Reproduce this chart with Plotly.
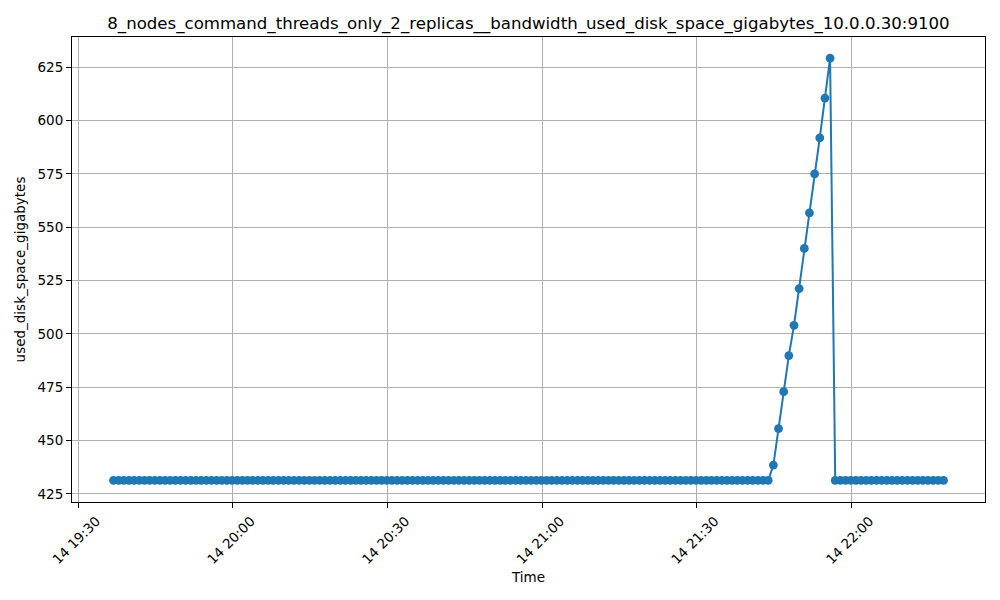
import pandas as pd
import plotly.graph_objects as go

# Data: one sample per minute starting 14 19:36:50
start_time = "2024-01-14 19:36:50"
n_points = 162
times = pd.date_range(start=start_time, periods=n_points, freq="1min")

flat_before = [
    431.3, 431.3, 431.3, 431.3, 431.3, 431.3, 431.3, 431.3, 431.3, 431.3, 431.3, 431.3, 431.3, 431.3, 431.3, 431.3,
    431.3, 431.3, 431.3, 431.3, 431.3, 431.3, 431.3, 431.3, 431.3, 431.3, 431.3, 431.3, 431.3, 431.3, 431.3, 431.3,
    431.3, 431.3, 431.3, 431.3, 431.3, 431.3, 431.3, 431.3, 431.3, 431.3, 431.3, 431.3, 431.3, 431.3, 431.3, 431.3,
    431.3, 431.3, 431.3, 431.3, 431.3, 431.3, 431.3, 431.3, 431.3, 431.3, 431.3, 431.3, 431.3, 431.3, 431.3, 431.3,
    431.3, 431.3, 431.3, 431.3, 431.3, 431.3, 431.3, 431.3, 431.3, 431.3, 431.3, 431.3, 431.3, 431.3, 431.3, 431.3,
    431.3, 431.3, 431.3, 431.3, 431.3, 431.3, 431.3, 431.3, 431.3, 431.3, 431.3, 431.3, 431.3, 431.3, 431.3, 431.3,
    431.3, 431.3, 431.3, 431.3, 431.3, 431.3, 431.3, 431.3, 431.3, 431.3, 431.3, 431.3, 431.3, 431.3, 431.3, 431.3,
    431.3, 431.3, 431.3, 431.3, 431.3, 431.3, 431.3, 431.3, 431.3, 431.3, 431.3, 431.3, 431.3, 431.3, 431.3, 431.3,
]
ramp = [438.5, 455.6, 472.9, 489.8, 504.0, 521.2, 540.0, 556.7, 575.0, 591.8, 610.5, 629.2]
flat_after = [
    431.3, 431.3, 431.3, 431.3, 431.3, 431.3, 431.3, 431.3, 431.3, 431.3, 431.3,
    431.3, 431.3, 431.3, 431.3, 431.3, 431.3, 431.3, 431.3, 431.3, 431.3, 431.3,
]
values = flat_before + ramp + flat_after

title_text = "8_nodes_command_threads_only_2_replicas__bandwidth_used_disk_space_gigabytes_10.0.0.30:9100"
x_label = "Time"
y_label = "used_disk_space_gigabytes"

fig = go.Figure()
fig.add_trace(go.Scatter(
    x=times[:len(values)], y=values, mode="lines+markers",
    line=dict(color="#1f77b4", width=2),
    marker=dict(color="#1f77b4", size=8.8),
    showlegend=False,
))

font_family = "DejaVu Sans, sans-serif"
axis_common = dict(
    showline=True, linecolor="black", linewidth=1.1, mirror=True,
    ticks="outside", ticklen=5, tickwidth=1.1, tickcolor="black",
    showgrid=True, gridcolor="#b0b0b0", gridwidth=1.1,
    zeroline=False, automargin=False,
    tickfont=dict(family=font_family, size=13.5, color="black"),
)

# the page body adds an 8px offset; margins compensate for it
fig.update_layout(
    width=1000, height=600,
    margin=dict(l=64, r=23, t=29, b=106),
    paper_bgcolor="white", plot_bgcolor="white",
    font=dict(family=font_family, color="black"),
    title=dict(text=title_text, x=0.5, xref="paper", xanchor="center",
               y=1 - 15 / 600, yref="container", yanchor="middle",
               font=dict(family=font_family, size=16.6, color="black")),
    xaxis=dict(
        **axis_common,
        range=["2024-01-14 19:28:47", "2024-01-14 22:25:53"],
        tickmode="linear", tick0="2024-01-14 19:30:00", dtick=30 * 60 * 1000,
        tickformat="%d %H:%M", tickangle=-45, ticklabelshift=18,
        title=dict(text=x_label, font=dict(family=font_family, size=13.5), standoff=6),
    ),
    yaxis=dict(
        **axis_common,
        range=[421.2, 639.1],
        tickmode="linear", tick0=425, dtick=25,
        title=dict(text=y_label, font=dict(family=font_family, size=13.5), standoff=8),
    ),
)

fig.write_html("out.html")
